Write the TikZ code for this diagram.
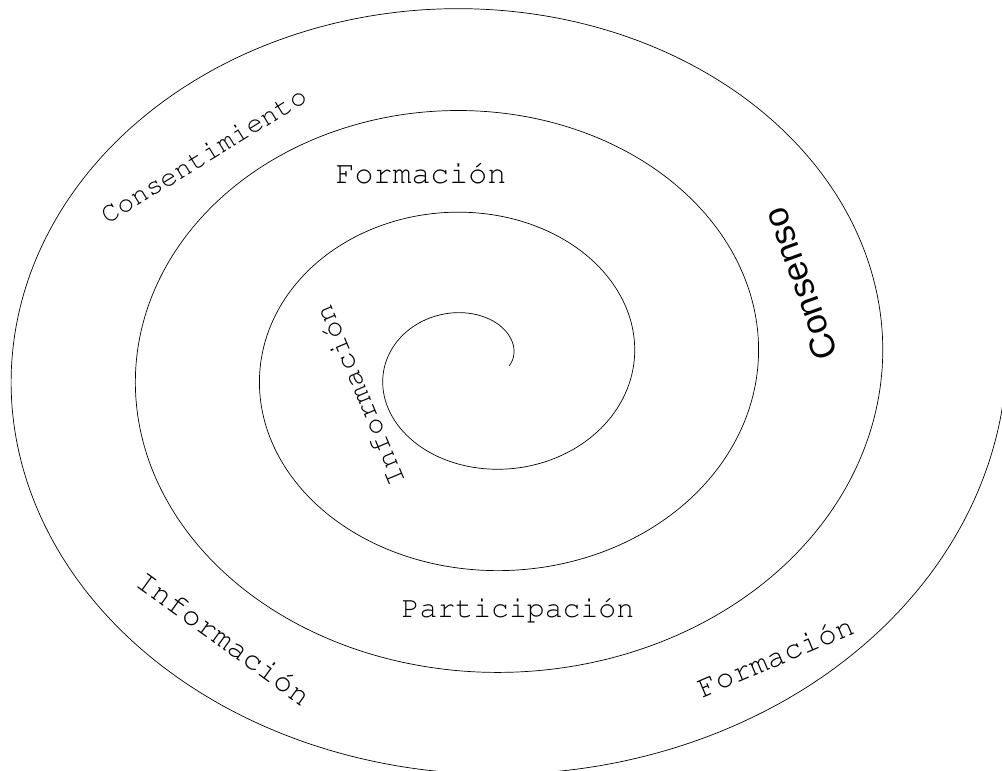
\documentclass[tikz,border=0pt]{standalone}
\usepackage{fontspec}
\newfontfamily\arialfont{Liberation Sans}
\newcommand{\courtext}[1]{\fontencoding{T1}\fontfamily{pcr}\fontsize{#1}{#1}\selectfont}
\tikzset{
  spiralline/.style={draw=black, line width=0.5pt},
  courlabel/.style={inner sep=0pt, anchor=center},
  sanslabel/.style={font=\arialfont, inner sep=0pt, anchor=center}
}
\begin{document}
\begin{tikzpicture}[x=0.025cm, y=-0.025cm]
\useasboundingbox (0,0) rectangle (1002,771);
\clip (0,0) rectangle (1002,771);
\draw[spiralline] plot[domain=0:1436, samples=500, smooth]
  ({478+31.1*(1+\x/90)*cos(\x)}, {366-25.5*(1+\x/90)*sin(\x)});
\node[courlabel, rotate=31.6, font=\courtext{20}] (consent) at (203.5,155) {Consentimiento};
\node[courlabel, font=\courtext{22.5}] (formtop) at (421,173) {Formación};
\node[sanslabel, rotate=110, font=\arialfont\fontsize{25}{25}\selectfont] (consenso) at (800,284) {Consenso};
\node[courlabel, rotate=112.8, font=\courtext{20.9}] (infoin) at (359,396) {Información};
\node[courlabel, rotate=-35.9, font=\courtext{22.3}] (infobl) at (224,638) {Información};
\node[courlabel, font=\courtext{21.2}] (partic) at (518,610) {Participación};
\node[courlabel, rotate=23, font=\courtext{22}] (formbr) at (775,656) {Formación};
\end{tikzpicture}
\end{document}
